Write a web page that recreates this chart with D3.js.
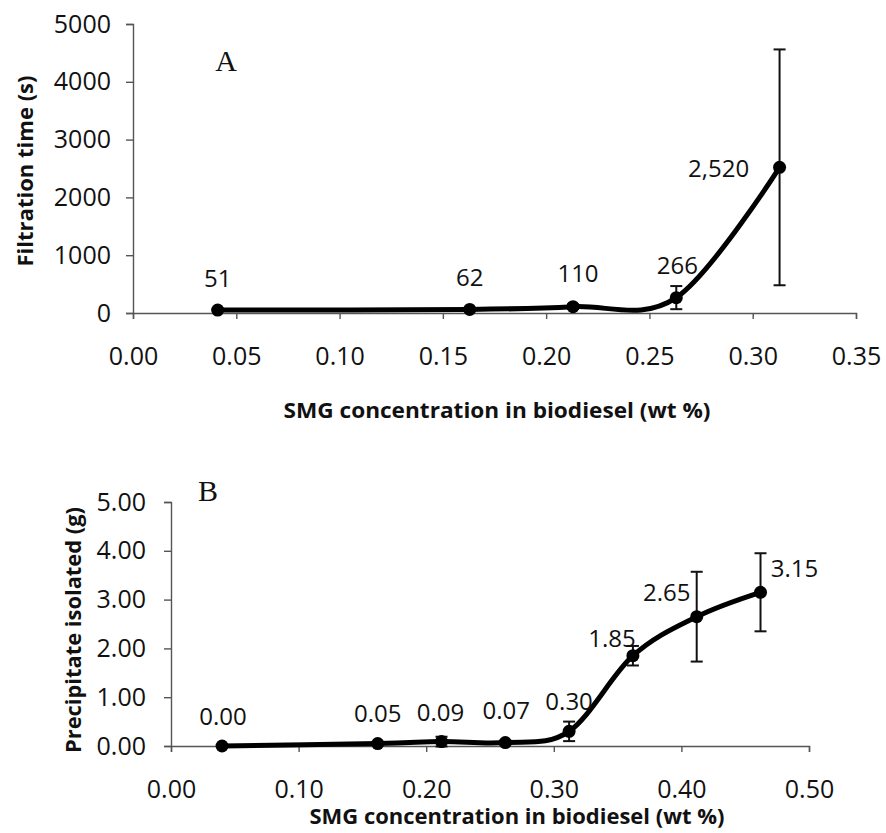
<!DOCTYPE html>
<html>
<head>
<meta charset="utf-8">
<script src="https://cdn.jsdelivr.net/npm/d3@7"></script>
<style>
  body { margin: 0; background: #fff; }
  svg { display: block; }
  text { font-family: "Open Sans", sans-serif; fill: #111; }
</style>
</head>
<body>
<div id="container"></div>
<script>
// panel A : filtration time
var concA = [0.041, 0.163, 0.213, 0.263, 0.313];
var timeA = [51, 62, 110, 266, 2520];
var errA = [5, 8, 40, 200, 2040];
var labelsA = ["51", "62", "110", "266", "2,520"];
var xTicksA = [0, 0.05, 0.10, 0.15, 0.20, 0.25, 0.30, 0.35];
var yTicksA = [0, 1000, 2000, 3000, 4000, 5000];

// panel B : precipitate isolated
var concB = [0.04, 0.162, 0.212, 0.262, 0.312, 0.362, 0.412, 0.462];
var massB = [0.00, 0.05, 0.09, 0.07, 0.30, 1.85, 2.65, 3.15];
var errB = [0, 0.02, 0.1, 0.04, 0.2, 0.2, 0.92, 0.8];
var labelsB = ["0.00", "0.05", "0.09", "0.07", "0.30", "1.85", "2.65", "3.15"];
var xTicksB = [0, 0.10, 0.20, 0.30, 0.40, 0.50];
var yTicksB = [0, 1, 2, 3, 4, 5];

// where each value label sits relative to its point
var offA = [[0, -33], [0, -33], [5, -34], [1, -33], [-61, 0]];
var offB = [[1, -31], [0, -31], [-1, -30], [1, -33], [0, -31], [-21, -18], [-30, -25], [34, -25]];

var svg = d3.select("#container").append("svg")
            .attr("width", 886)
            .attr("height", 833);

function drawPanel(p) {
  var x = d3.scaleLinear().domain(p.xDomain).range([p.left, p.right]);
  var y = d3.scaleLinear().domain(p.yDomain).range([p.bottom, p.top]);
  var g = svg.append("g");

  var xAxis = g.append("g")
               .attr("transform", "translate(0," + p.bottom + ")")
               .call(d3.axisBottom(x).tickValues(p.xTicks).tickFormat(d3.format(".2f"))
                       .tickSizeOuter(6).tickSize(6).tickPadding(p.xPad));
  var yAxis = g.append("g")
               .attr("transform", "translate(" + p.left + ",0)")
               .call(d3.axisLeft(y).tickValues(p.yTicks).tickFormat(p.yFormat)
                       .tickSizeOuter(7).tickSize(7).tickPadding(p.yPad));
  [xAxis, yAxis].forEach(function (a) {
    a.select(".domain").attr("stroke", "#555").attr("stroke-width", 1.4);
    a.selectAll(".tick line").attr("stroke", "#555").attr("stroke-width", 1.4);
    a.selectAll(".tick text").style("font-size", "25px").attr("fill", "#111")
     .style("font-family", "'Open Sans', sans-serif");
  });

  var pts = p.xs.map(function (d, i) { return {x: d, y: p.ys[i], e: p.errs[i], t: p.labels[i], o: p.offs[i]}; });

  // error bars
  var eb = g.selectAll(".err").data(pts).enter().append("g").attr("class", "err")
            .attr("stroke", "#111").attr("stroke-width", 2);
  eb.append("line")
    .attr("x1", function (d) { return x(d.x); })
    .attr("x2", function (d) { return x(d.x); })
    .attr("y1", function (d) { return y(d.y - d.e); })
    .attr("y2", function (d) { return y(d.y + d.e); });
  eb.append("line")
    .attr("x1", function (d) { return x(d.x) - 6; })
    .attr("x2", function (d) { return x(d.x) + 6; })
    .attr("y1", function (d) { return y(d.y + d.e); })
    .attr("y2", function (d) { return y(d.y + d.e); });
  eb.append("line")
    .attr("x1", function (d) { return x(d.x) - 6; })
    .attr("x2", function (d) { return x(d.x) + 6; })
    .attr("y1", function (d) { return y(d.y - d.e); })
    .attr("y2", function (d) { return y(d.y - d.e); });

  // smoothed line like the spreadsheet one
  var line = d3.line()
               .x(function (d) { return x(d.x); })
               .y(function (d) { return y(d.y); })
               .curve(d3.curveCardinal.tension(0));
  g.append("path").datum(pts)
   .attr("d", line)
   .attr("fill", "none")
   .attr("stroke", "#000")
   .attr("stroke-width", 5)
   .attr("stroke-linejoin", "round");

  g.selectAll(".dot").data(pts).enter().append("circle")
   .attr("cx", function (d) { return x(d.x); })
   .attr("cy", function (d) { return y(d.y); })
   .attr("r", 6.5)
   .attr("fill", "#000");

  g.selectAll(".lbl").data(pts).enter().append("text")
   .attr("x", function (d) { return x(d.x) + d.o[0]; })
   .attr("y", function (d) { return y(d.y) + d.o[1]; })
   .attr("text-anchor", "middle")
   .attr("dominant-baseline", "central")
   .style("font-size", "24px")
   .text(function (d) { return d.t; });

  // panel letter
  g.append("text")
   .attr("x", p.letterX).attr("y", p.letterY)
   .attr("text-anchor", "middle")
   .attr("dominant-baseline", "central")
   .style("font-family", "'Liberation Serif', serif")
   .style("font-size", "30px")
   .text(p.letter);

  // axis titles
  g.append("text")
   .attr("x", p.xTitleX).attr("y", p.xTitleY)
   .attr("text-anchor", "middle")
   .attr("dominant-baseline", "central")
   .attr("textLength", p.xTitleLen)
   .attr("lengthAdjust", "spacingAndGlyphs")
   .style("font-size", "21px").style("font-weight", "bold")
   .text("SMG concentration in biodiesel (wt %)");
  g.append("text")
   .attr("transform", "translate(" + p.yTitleX + "," + p.yTitleY + ") rotate(-90)")
   .attr("text-anchor", "middle")
   .attr("dominant-baseline", "central")
   .attr("textLength", p.yTitleLen)
   .attr("lengthAdjust", "spacingAndGlyphs")
   .style("font-size", "22px").style("font-weight", "bold")
   .text(p.yTitle);
}

drawPanel({
  xs: concA, ys: timeA, errs: errA, labels: labelsA, offs: offA,
  xDomain: [0, 0.35], yDomain: [0, 5000], xTicks: xTicksA, yTicks: yTicksA,
  yFormat: d3.format("d"),
  left: 133, right: 856, top: 24, bottom: 313, xPad: 28, yPad: 15,
  letter: "A", letterX: 226, letterY: 60,
  xTitleX: 497, xTitleY: 410, xTitleLen: 427,
  yTitle: "Filtration time (s)", yTitleX: 24, yTitleY: 171, yTitleLen: 191
});

drawPanel({
  xs: concB, ys: massB, errs: errB, labels: labelsB, offs: offB,
  xDomain: [0, 0.5], yDomain: [0, 5], xTicks: xTicksB, yTicks: yTicksB,
  yFormat: d3.format(".2f"),
  left: 171, right: 809, top: 502, bottom: 746, xPad: 28, yPad: 18,
  letter: "B", letterX: 208, letterY: 490,
  xTitleX: 517, xTitleY: 816, xTitleLen: 415,
  yTitle: "Precipitate isolated (g)", yTitleX: 72, yTitleY: 630, yTitleLen: 246
});
</script>
</body>
</html>
